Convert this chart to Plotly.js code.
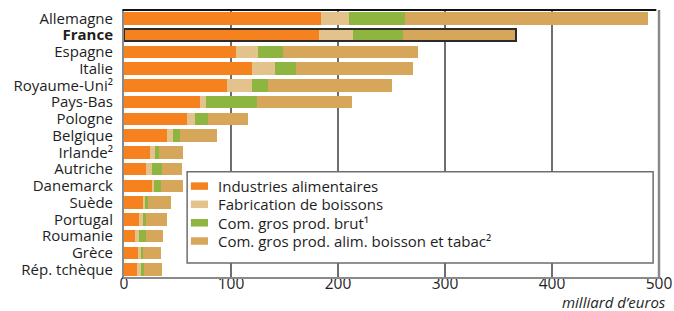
<!DOCTYPE html>
<html>
<head>
<meta charset="utf-8">
<script src="https://cdn.plot.ly/plotly-3.0.1.min.js"></script>
<style>html,body{margin:0;padding:0;background:#fff;}#chart{width:674px;height:311px;}</style>
</head>
<body>
<div id="chart"></div>
<script>
const countries = ["Allemagne","France","Espagne","Italie","Royaume-Uni","Pays-Bas","Pologne","Belgique","Irlande","Autriche","Danemarck","Suède","Portugal","Roumanie","Grèce","Rép. tchèque"];
const tickLabels = ["Allemagne","<b>France</b>","Espagne","Italie","Royaume-Uni²","Pays-Bas","Pologne","Belgique","Irlande²","Autriche","Danemarck","Suède","Portugal","Roumanie","Grèce","Rép. tchèque"];
const industries = [184.5,182,105,120,96,71,58.7,40,24,20.5,26,17.7,14,10.3,13,12];
const boissons   = [26,32,20.5,21.5,24,5.5,7.5,6,4.7,5.6,2,2,3.7,3.7,2.8,3.7];
const grosBrut   = [52,47,22.7,19.5,15,47.5,12,6.5,3.7,9.3,6.5,2.8,2.8,6.5,1.9,2.8];
const grosAlim   = [227,105,127,109,115,89.5,38,34.5,22.4,18.6,20.5,21.4,19.5,15.8,16.8,16.8];
const seriesNames = ["Industries alimentaires","Fabrication de boissons","Com. gros prod. brut¹","Com. gros prod. alim. boisson et tabac²"];
const colors = ["#F5821F","#E3C28C","#8DB53F","#D6A75A"];
const highlight = "France";
const xTicks = [0,100,200,300,400,500];
const xTitle = "milliard d’euros";

const series = [industries, boissons, grosBrut, grosAlim];
const traces = series.map((vals, i) => ({
  type: "bar", orientation: "h", x: vals, y: countries, name: seriesNames[i],
  marker: {color: colors[i], line: {width: 0}}, width: 0.75, showlegend: false
}));
const hi = countries.indexOf(highlight);
const total = series.reduce((s, v) => s + v[hi], 0);
traces.push({
  type: "bar", orientation: "h", x: [total], y: [highlight], yaxis: "y2", showlegend: false,
  width: 0.75, marker: {color: "rgba(0,0,0,0)", line: {color: "#2b2b2b", width: 2}}
});

const font = "'Open Sans', 'Noto Sans', sans-serif";
const txt = "#1e1e1e";

// legend (box + swatches + labels) in paper coordinates
const legRowY = [0.343, 0.275, 0.206, 0.138];
const legendShapes = [{type: "rect", xref: "paper", yref: "paper", x0: 0.118, x1: 0.989, y0: 0.056, y1: 0.396,
     fillcolor: "#fff", line: {color: "#6e6e6e", width: 1.5}, layer: "above"}];
const legendAnn = [];
seriesNames.forEach((n, i) => {
  legendShapes.push({type: "rect", xref: "paper", yref: "paper", x0: 0.125, x1: 0.157,
    y0: legRowY[i] - 0.014, y1: legRowY[i] + 0.014, fillcolor: colors[i], line: {width: 0}, layer: "above"});
  legendAnn.push({xref: "paper", yref: "paper", x: 0.172, y: legRowY[i], xanchor: "left", yanchor: "middle",
    text: n, showarrow: false, font: {size: 15, family: font, color: txt}});
});

const layout = {
  width: 674, height: 311,
  margin: {l: 124, r: 15, t: 10, b: 33},
  barmode: "stack", bargap: 0.25,
  paper_bgcolor: "#fff", plot_bgcolor: "#fff",
  font: {family: font, color: txt, size: 15},
  showlegend: false,
  xaxis: {range: [0, 500], tickvals: xTicks, showgrid: true, gridcolor: "#6e6e6e", gridwidth: 1.5,
          anchor: "free", position: 0.02,
          zeroline: false, showline: false, ticks: "", tickfont: {size: 15.5}, fixedrange: true},
  yaxis: {type: "category", categoryorder: "array", categoryarray: countries, autorange: "reversed",
          tickvals: countries, ticktext: tickLabels, showgrid: false, zeroline: false, showline: true,
          linecolor: "#8a8a8a", linewidth: 2, ticks: "", ticklabelstandoff: 6, tickfont: {size: 15}},
  yaxis2: {type: "category", categoryorder: "array", categoryarray: countries, autorange: "reversed",
           overlaying: "y", matches: "y", visible: false},
  shapes: legendShapes.concat([
    {type: "line", xref: "paper", yref: "paper", x0: -0.003, x1: 0.995, y0: 1, y1: 1,
     line: {color: "#111", width: 2}},
    {type: "line", xref: "paper", yref: "paper", x0: 1, x1: 1, y0: 0, y1: 1,
     line: {color: "#8a8a8a", width: 2.5}},
    {type: "line", xref: "paper", yref: "paper", x0: -0.002, x1: 1.002, y0: 0, y1: 0,
     line: {color: "#8a8a8a", width: 2}}
  ]),
  annotations: legendAnn.concat([
    {xref: "paper", yref: "paper", x: 1.016, y: -0.089, xanchor: "right", yanchor: "middle",
     text: "<i>" + xTitle + "</i>", showarrow: false, font: {size: 15, family: font, color: txt}}
  ])
};
Plotly.newPlot("chart", traces, layout, {displayModeBar: false, staticPlot: true});
</script>
</body>
</html>
